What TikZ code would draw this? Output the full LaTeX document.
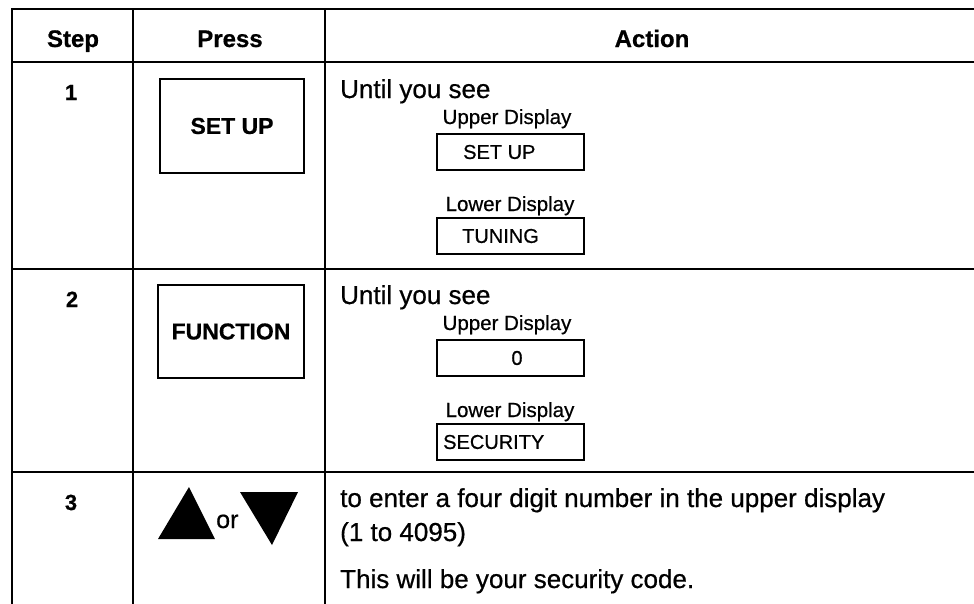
\documentclass[tikz,border=0pt]{standalone}
\usepackage{fontspec}
\setmainfont{Liberation Sans}[FakeBold=0.6]
\begin{document}
\begin{tikzpicture}[x=1pt,y=-1pt,
  tbl/.style={line width=2pt, line cap=rect},
  hdr/.style={font=\fontsize{24}{28}\selectfont\bfseries, anchor=base, inner sep=0pt},
  num/.style={font=\fontsize{22}{26}\selectfont\bfseries, anchor=base, inner sep=0pt},
  body/.style={font=\fontsize{26}{31}\selectfont, anchor=base west, inner sep=0pt},
  lbl/.style={font=\fontsize{20.5}{24}\selectfont, anchor=base, inner sep=0pt},
  disp/.style={draw, line width=1.8pt, minimum width=147pt, minimum height=36pt, inner sep=0pt},
  dtext/.style={font=\fontsize{20}{24}\selectfont, anchor=west, inner sep=0pt},
  keybox/.style={draw, line width=2pt, inner sep=0pt, font=\fontsize{23}{27}\selectfont\bfseries}]
\useasboundingbox (0,0) rectangle (974,603);
% table grid
\draw[tbl] (12,9) -- (974,9);
\draw[tbl] (12,62) -- (974,62);
\draw[tbl] (12,269) -- (974,269);
\draw[tbl] (12,472) -- (974,472);
\draw[tbl] (12,9) -- (12,603);
\draw[tbl] (133,9) -- (133,603);
\draw[tbl] (325,9) -- (325,603);
% header
\node[hdr] (hstep) at (73,47) {Step};
\node[hdr] (hpress) at (230,47) {Press};
\node[hdr] (haction) at (652,47) {Action};
% step numbers
\node[num] (n1) at (71,100) {1};
\node[num] (n2) at (72,307) {2};
\node[num] (n3) at (71,510) {3};
% keys
\node[keybox, minimum width=144pt, minimum height=94pt] (k1) at (232,126) {SET UP};
\node[keybox, minimum width=146pt, minimum height=93pt] (k2) at (231,331.5) {FUNCTION};
% arrows
\fill (158,539) -- (215,539) -- (189,487) -- cycle;
\fill (240,492) -- (298,492) -- (272,545) -- cycle;
\node[font=\fontsize{25}{30}\selectfont, anchor=base west, inner sep=0pt] (or) at (216,528) {or};
% row 1 action
\node[body] (a1) at (340,98) {Until you see};
\node[lbl] (u1l) at (507,124) {Upper Display};
\node[disp] (u1) at (510.5,152) {};
\node[dtext] (u1t) at (463,152) {SET UP};
\node[lbl] (l1l) at (510,211) {Lower Display};
\node[disp] (l1) at (510.5,236) {};
\node[dtext] (l1t) at (462,236) {TUNING};
% row 2 action
\node[body] (a2) at (340,304) {Until you see};
\node[lbl] (u2l) at (507,330) {Upper Display};
\node[disp] (u2) at (510.5,358) {};
\node[dtext, anchor=center] (u2t) at (517,358) {0};
\node[lbl] (l2l) at (510,417) {Lower Display};
\node[disp] (l2) at (510.5,442) {};
\node[dtext] (l2t) at (443,442) {SECURITY};
% row 3 action
\node[body] (a3a) at (340,507) {to enter a four digit number in the upper display};
\node[body] (a3b) at (340,541) {(1 to 4095)};
\node[body] (a3c) at (340,588) {This will be your security code.};
\end{tikzpicture}
\end{document}
